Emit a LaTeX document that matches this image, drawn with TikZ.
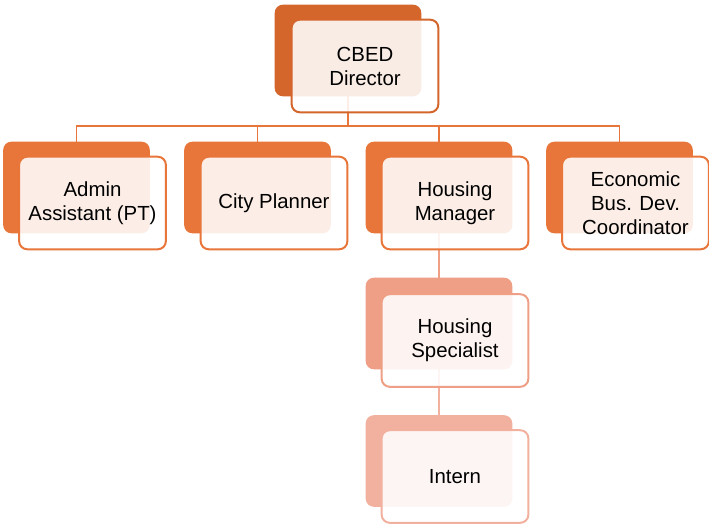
\documentclass[tikz,border=0pt]{standalone}
\usepackage{fontspec}
\setmainfont{Liberation Sans}
\definecolor{cDir}{HTML}{D4662C}
\definecolor{cTwo}{HTML}{E8763A}
\definecolor{cSpec}{HTML}{EF9F86}
\definecolor{cInt}{HTML}{F2B19E}
\tikzset{
  backbox/.style={rectangle, rounded corners=6pt, minimum width=109.5pt, minimum height=68.25pt, inner sep=0pt},
  frontbox/.style={rectangle, rounded corners=6pt, line width=1.5pt, fill=white, fill opacity=0.88, text opacity=1,
     minimum width=110pt, minimum height=69.4pt, inner sep=0pt, align=center, text=black,
     font=\fontsize{15.3}{18}\selectfont},
  conn/.style={line width=1.35pt}
}
\begin{document}
\begin{tikzpicture}[x=0.75pt,y=-0.75pt]
\useasboundingbox (0,0) rectangle (709,525);
% back boxes (coordinates for connectors)
\node[backbox] (dirB) at (348,50.5) {};
\node[backbox] (admB) at (76.5,187.5) {};
\node[backbox] (cityB) at (257.5,187.5) {};
\node[backbox] (hmB) at (439,187.5) {};
\node[backbox] (ecoB) at (619.5,187.5) {};
\node[backbox] (hsB) at (439,323.5) {};
\node[backbox] (intB) at (439,461) {};
% connectors
\coordinate (bus) at (348,126);
\draw[conn, cTwo] (dirB.south) -- (bus);
\draw[conn, cTwo] (bus) -| (admB.north);
\draw[conn, cTwo] (bus) -| (cityB.north);
\draw[conn, cTwo] (bus) -| (hmB.north);
\draw[conn, cTwo] (bus) -| (ecoB.north);
\draw[conn, cSpec] (hmB.south) -- (hsB.north);
\draw[conn, cInt] (hsB.south) -- (intB.north);
% filled back boxes
\fill[cDir, rounded corners=6pt] (dirB.south west) rectangle (dirB.north east);
\fill[cTwo, rounded corners=6pt] (admB.south west) rectangle (admB.north east);
\fill[cTwo, rounded corners=6pt] (cityB.south west) rectangle (cityB.north east);
\fill[cTwo, rounded corners=6pt] (hmB.south west) rectangle (hmB.north east);
\fill[cTwo, rounded corners=6pt] (ecoB.south west) rectangle (ecoB.north east);
\fill[cSpec, rounded corners=6pt] (hsB.south west) rectangle (hsB.north east);
\fill[cInt, rounded corners=6pt] (intB.south west) rectangle (intB.north east);
% front boxes
\node[frontbox, draw=cDir] (dirF) at (365,66) {CBED\\Director};
\node[frontbox, draw=cTwo] (admF) at (92.5,203) {Admin\\Assistant (PT)};
\node[frontbox, draw=cTwo] (cityF) at (274,203) {City Planner};
\node[frontbox, draw=cTwo] (hmF) at (455,203) {Housing\\Manager};
\node[frontbox, draw=cTwo] (ecoF) at (635.5,203) {Economic\\Bus. Dev.\\Coordinator};
\node[frontbox, draw=cSpec] (hsF) at (455,340.5) {Housing\\Specialist};
\node[frontbox, draw=cInt] (intF) at (455,476.5) {Intern};
\end{tikzpicture}
\end{document}
